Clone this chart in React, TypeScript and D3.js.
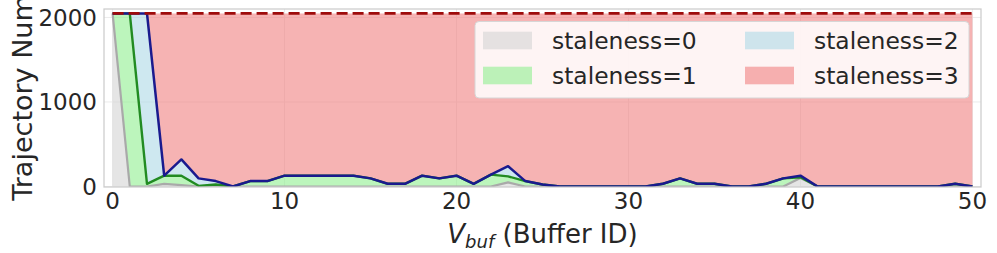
import React from "react";
import * as d3 from "d3";

const bufferIds: number[] = d3.range(0, 51);
const stale0: number[] = [2048,0,0,32,16,0,0,0,0,0, 0,0,0,0,0,0,0,0,0,0, 0,0,0,48,0,0,0,0,0,0, 0,0,0,0,0,0,0,0,0,0, 100,0,0,0,0,0,0,0,0,0, 0];
const stale1: number[] = [0,2048,32,96,112,8,24,0,64,64, 128,128,128,128,128,96,32,32,128,96, 128,32,140,72,64,24,0,0,0,0, 0,0,32,96,32,32,0,0,32,96, 10,0,0,0,0,0,0,0,0,32, 0];
const stale2: number[] = [0,0,2016,0,192,88,40,0,0,0, 0,0,0,0,0,0,0,0,0,0, 0,0,0,120,0,0,0,0,0,0, 0,0,0,0,0,0,0,0,0,0, 18,0,0,0,0,0,0,0,0,0, 0];
const stale3: number[] = [0,0,0,1920,1728,1952,1984,2048,1984,1984, 1920,1920,1920,1920,1920,1952,2016,2016,1920,1952, 1920,2016,1908,1808,1984,2024,2048,2048,2048,2048, 2048,2048,2016,1952,2016,2016,2048,2048,2016,1952, 1920,2048,2048,2048,2048,2048,2048,2048,2048,2016, 2048];
const seriesNames: string[] = ["staleness=0", "staleness=1", "staleness=2", "staleness=3"];
const xTicks: number[] = [0, 10, 20, 30, 40, 50];
const yTicks: number[] = [0, 1000, 2000];

const fillColors = ["#d3d3d3", "#90ee90", "#add8e6", "#f08080"];
const lineColors = ["#a9a9a9", "#228b22", "#1a1a8e", "#9e0b0b"];

const W = 997, H = 253;
const L = 104, R = 981, T = 9, B = 187;

export default function App() {
  const x = d3.scaleLinear().domain([-0.5, 50.5]).range([L, R]);
  const y = d3.scaleLinear().domain([0, 2100]).range([186.5, T]);

  const table = bufferIds.map((id, i) => ({
    id,
    s0: stale0[i],
    s1: stale1[i],
    s2: stale2[i],
    s3: stale3[i],
  }));
  const keys = ["s0", "s1", "s2", "s3"];
  const stacked = d3.stack<any>().keys(keys)(table);

  const area = d3
    .area<any>()
    .x((d) => x(d.data.id))
    .y0((d) => y(d[0]))
    .y1((d) => y(d[1]));
  const line = d3
    .line<any>()
    .x((d) => x(d.data.id))
    .y((d) => y(d[1]));

  const font = "DejaVu Sans, sans-serif";
  const textColor = "#262626";

  const legendItems = seriesNames.map((name, i) => ({
    name,
    color: fillColors[i],
    col: i < 2 ? 0 : 1,
    row: i % 2,
  }));

  const lineWidths = [2.2, 2.4, 2.5];

  return (
    <svg
      width={W}
      height={H}
      style={{ position: "absolute", left: 0, top: 0, background: "#fff" }}
      fontFamily={font}
    >
      <rect x={0} y={0} width={W} height={H} fill="#fff" />
      <defs>
        <clipPath id="plotclip">
          <rect x={L} y={T} width={R - L} height={B - T} />
        </clipPath>
      </defs>
      {xTicks.map((t) => (
        <line key={"gx" + t} x1={x(t)} x2={x(t)} y1={T} y2={B} stroke="#ebebeb" strokeWidth={1} />
      ))}
      {yTicks.map((t) => (
        <line key={"gy" + t} x1={L} x2={R} y1={y(t)} y2={y(t)} stroke="#ebebeb" strokeWidth={1} />
      ))}
      <g clipPath="url(#plotclip)">
        {stacked.map((s, i) => (
          <path key={"a" + i} d={area(s as any) || ""} fill={fillColors[i]} fillOpacity={0.6} stroke="none" />
        ))}
        {stacked.slice(0, 3).map((s, i) => (
          <path
            key={"l" + i}
            d={line(s as any) || ""}
            fill="none"
            stroke={lineColors[i]}
            strokeWidth={lineWidths[i]}
            strokeLinejoin="round"
          />
        ))}
        <path
          d={line(stacked[3] as any) || ""}
          fill="none"
          stroke={lineColors[3]}
          strokeWidth={2.6}
          strokeDasharray="11,5"
        />
      </g>
      <rect x={L} y={T} width={R - L} height={B - T} fill="none" stroke="#cccccc" strokeWidth={1.25} />
      {xTicks.map((t) => (
        <text key={"xt" + t} x={x(t)} y={209} textAnchor="middle" fontSize={23} fill={textColor}>
          {t}
        </text>
      ))}
      {yTicks.map((t) => (
        <text key={"yt" + t} x={97} y={y(t) + 8.3} textAnchor="end" fontSize={23} fill={textColor}>
          {t}
        </text>
      ))}
      <text x={(L + R) / 2} y={243} textAnchor="middle" fontSize={26} fill={textColor}>
        <tspan fontStyle="italic">V</tspan>
        <tspan fontStyle="italic" fontSize={18} dy={5}>buf</tspan>
        <tspan dy={-5}> (Buffer ID)</tspan>
      </text>
      <text
        transform={`translate(32, ${(T + B) / 2}) rotate(-90)`}
        textAnchor="middle"
        fontSize={27}
        fill={textColor}
      >
        Trajectory Num
      </text>
      <rect x={475} y={21.5} width={494} height={76.5} rx={4} fill="#ffffff" fillOpacity={0.85} stroke="#d6d6d6" strokeWidth={1} />
      {legendItems.map((it, i) => {
        const px = it.col === 0 ? 483 : 745;
        const cy = it.row === 0 ? 40.5 : 75.5;
        return (
          <g key={"lg" + i}>
            <rect x={px} y={cy - 8.8} width={49} height={17.6} fill={it.color} fillOpacity={0.6} />
            <text x={px + 69} y={cy + 8.2} fontSize={23.4} fill={textColor}>
              {it.name}
            </text>
          </g>
        );
      })}
    </svg>
  );
}
